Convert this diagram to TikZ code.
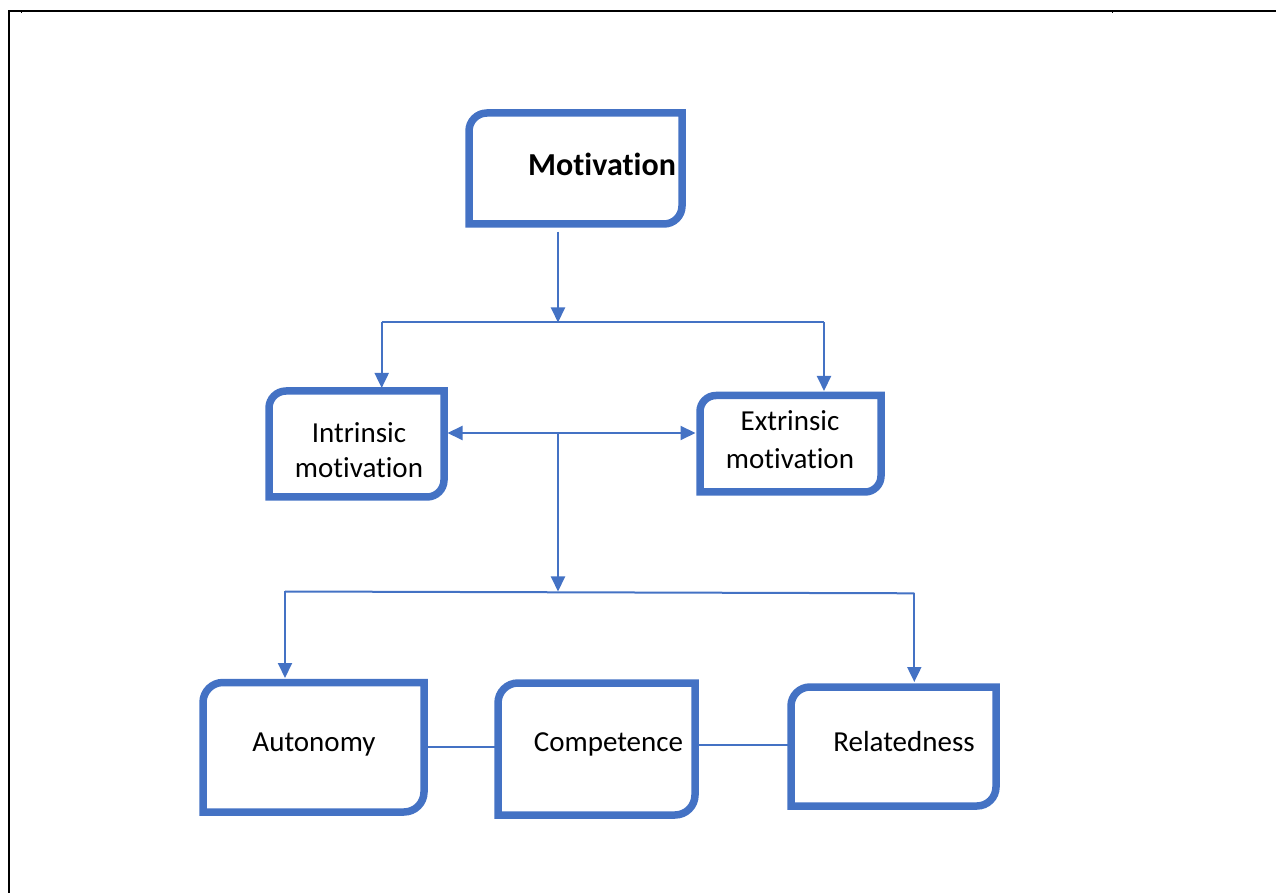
\documentclass[tikz,border=0pt]{standalone}
\usepackage{fontspec}
\setmainfont{Carlito}[Ligatures={NoCommon}]
\usetikzlibrary{arrows.meta,calc}
\definecolor{officeblue}{HTML}{4472C4}

% Outline of a box whose top-left and bottom-right corners are rounded
\newcommand\snipframe[2]{%
  \draw[frame] (#1.south west) -- ([yshift=-#2]#1.north west)
    arc[start angle=180,end angle=90,radius=#2] -- (#1.north east)
    -- ([yshift=#2]#1.south east)
    arc[start angle=0,end angle=-90,radius=#2] -- cycle;}

\tikzset{
  frame/.style={draw=officeblue, line width=7.5pt, line join=miter},
  holder/.style args={#1 by #2}{shape=rectangle, inner sep=0pt, outer sep=0pt,
    minimum width=#1, minimum height=#2},
  label/.style={inner sep=0pt, outer sep=0pt, text=black,
    font=\fontsize{29}{35.5}\selectfont, align=center},
  title/.style={inner sep=0pt, outer sep=0pt, text=black,
    font=\fontsize{32}{38}\selectfont\bfseries},
  conn/.style={draw=officeblue, line width=2pt},
  arr/.style={conn, -{Triangle[length=15pt,width=14pt]}},
  biarr/.style={conn, {Triangle[length=15pt,width=14pt]}-{Triangle[length=15pt,width=14pt]}},
  rule/.style={draw=black, line width=2pt}
}

\begin{document}
\begin{tikzpicture}[x=1pt,y=1pt]
\useasboundingbox (0,0) rectangle (1276,892);

% page frame
\coordinate (fTL) at (9,881);
\coordinate (fTR) at (1276,881);
\coordinate (fBL) at (9,0);
\draw[rule, line cap=rect] (fBL) -- (fTL) -- (fTR);
\coordinate (k1) at (21.5,881);
\coordinate (k2) at (1112.5,881);
\draw[black, line width=1.2pt] (k1) -- ++(0,-2.5);
\draw[black, line width=1.2pt] (k2) -- ++(0,-2.5);

% boxes
\node[holder=213pt by 111pt] (mot) at (575.5,723.5) {};
\node[holder=175pt by 106pt] (intr) at (356.5,448) {};
\node[holder=181pt by 96.5pt] (extr) at (790.5,448.25) {};
\node[holder=221pt by 129.5pt] (aut) at (313.5,144.75) {};
\node[holder=197pt by 132pt] (comp) at (596.5,143) {};
\node[holder=205pt by 119pt] (rel) at (893.5,145.5) {};

\snipframe{mot}{18pt}
\snipframe{intr}{17pt}
\snipframe{extr}{16pt}
\snipframe{aut}{20pt}
\snipframe{comp}{20pt}
\snipframe{rel}{19pt}

% texts
\node[title, anchor=base] (motT) at (602,716) {Motivation};
\node[label] (intrT) at (359,442) {Intrinsic\\motivation};
\node[label, font=\fontsize{29}{38}\selectfont] (extrT) at (790,452) {Extrinsic\\motivation};
\node[label, anchor=base] (autT) at (314,140.3) {Autonomy};
\node[label, anchor=base] (compT) at (608.5,140.3) {Competence};
\node[label, anchor=base] (relT) at (904,140.3) {Relatedness};

% upper branching
\coordinate (j1) at (558,569.5);
\coordinate (tL) at (381.7,569.5);
\coordinate (tR) at (824,569.5);
\draw[arr] ($(mot.south -| j1)+(0,-7.7)$) -- (j1);
\draw[conn] (tL) -- (tR);
\draw[arr] (tL) -- ($(tL |- intr.north)+(0,3)$);
\draw[arr] (tR) -- ($(tR |- extr.north)+(0,4.5)$);

% two-way link between the motivation types
\coordinate (j2) at (558,459);
\draw[biarr] ($(j2 -| intr.east)+(3.5,0)$) -- ($(j2 -| extr.west)+(-4.5,0)$);

% lower branching
\coordinate (bL) at (285,300.5);
\coordinate (bR) at (914.3,298.7);
\coordinate (j3) at (558,300.5);
\draw[arr] (j2) -- (j3);
\draw[conn] (bL) -- (bR);
\draw[arr] (bL) -- ($(bL |- aut.north)+(0,4.5)$);
\draw[arr] (bR) -- ($(bR |- rel.north)+(0,5)$);

% links between the three needs
\draw[conn] (aut.east) -- (aut.east -| comp.west);
\draw[conn] ($(comp.east)+(0,4)$) -- ($(comp.east -| rel.west)+(0,4)$);
\end{tikzpicture}
\end{document}
